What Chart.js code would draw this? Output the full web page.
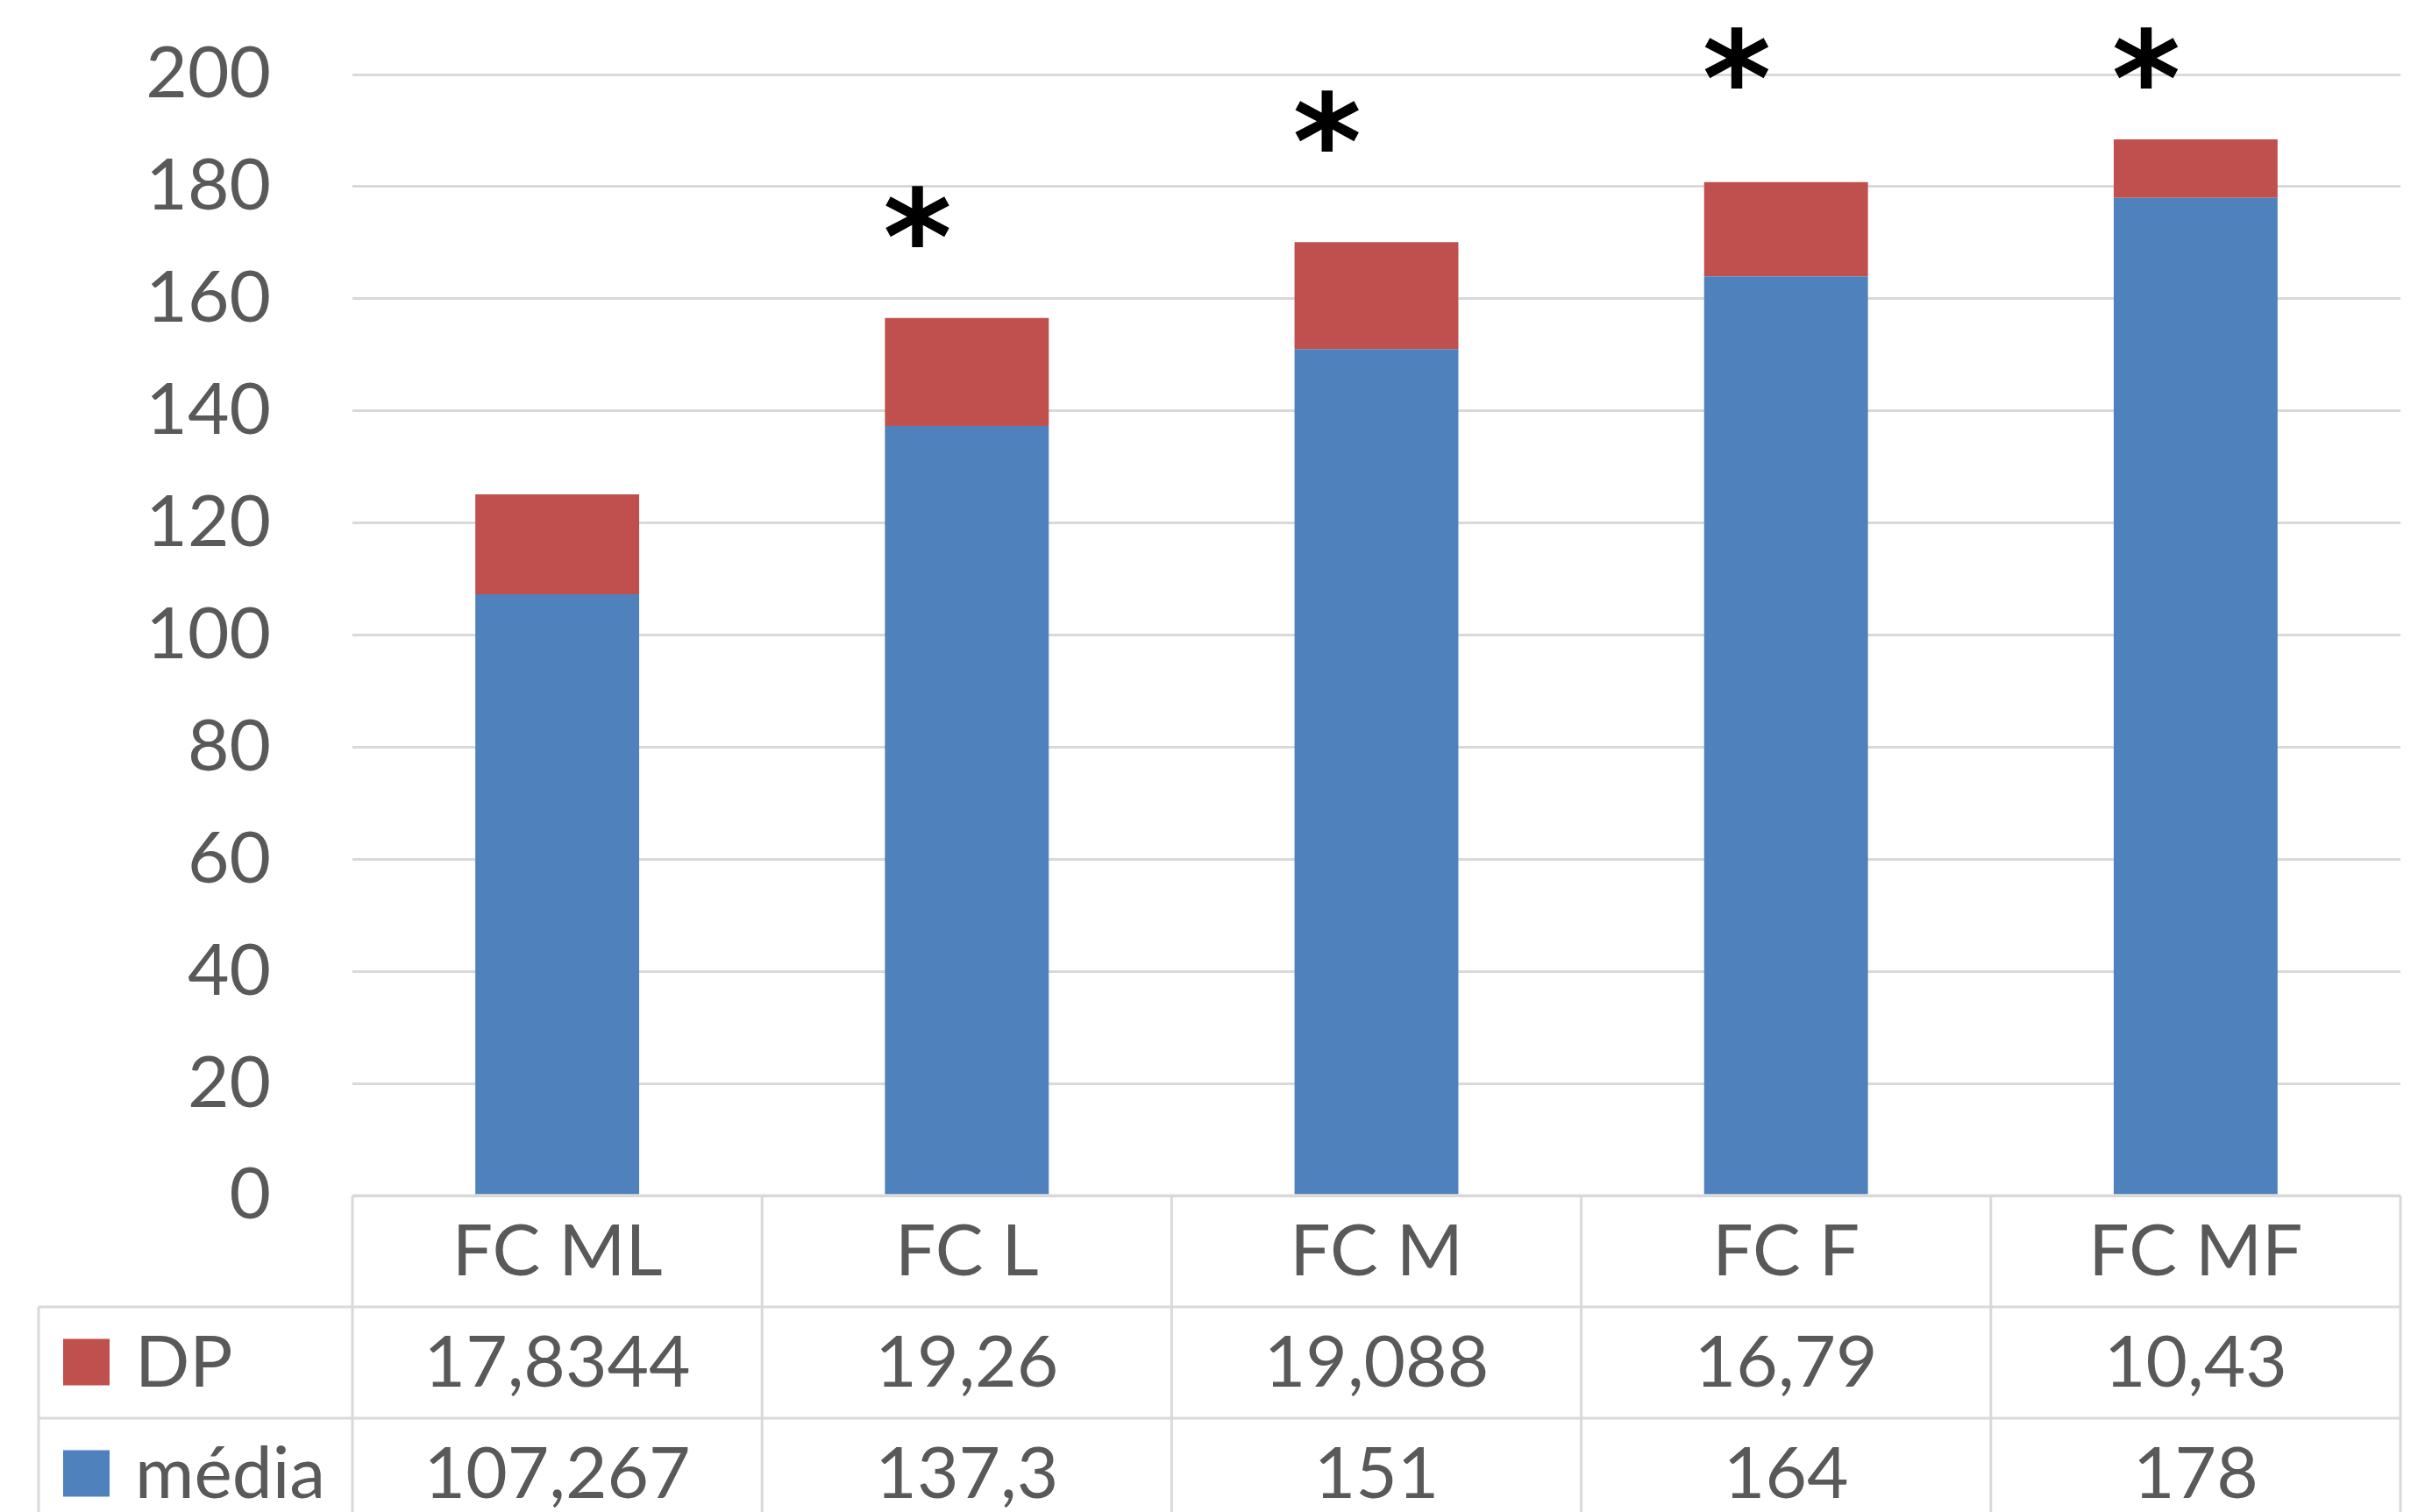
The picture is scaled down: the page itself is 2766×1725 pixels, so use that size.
<!DOCTYPE html>
<html>
<head>
<meta charset="utf-8">
<script src="https://cdn.jsdelivr.net/npm/chart.js@4/dist/chart.umd.min.js"></script>
<style>
  html, body { margin: 0; padding: 0; background: #ffffff; }
  #wrap { width: 2766px; height: 1725px; }
</style>
</head>
<body>
<div id="wrap"><canvas id="chart" width="2766" height="1725"></canvas></div>
<script>
// Heart-rate categories and their statistics
const categories = ['FC ML', 'FC L', 'FC M', 'FC F', 'FC MF'];
const mediaValues = [107.267, 137.3, 151, 164, 178];
const dpValues = [17.8344, 19.26, 19.088, 16.79, 10.43];
const mediaLabels = ['107,267', '137,3', '151', '164', '178'];
const dpLabels = ['17,8344', '19,26', '19,088', '16,79', '10,43'];
// Significance markers: level on the value axis where each asterisk sits (null = none)
const asteriskLevels = [null, 174.7, 191.7, 203, 203];

const BLUE = '#4F81BD';
const RED = '#C0504D';
const TEXT = '#595959';
const GRID = '#D9D9D9';
const FONT = 'Lato, "Open Sans", sans-serif';
const FONT_SIZE = 82;

// Data table drawn beneath the plot, aligned to the category axis
const dataTable = {
  id: 'dataTable',
  afterDraw(chart) {
    const ctx = chart.ctx;
    const xs = chart.scales.x;
    const area = chart.chartArea;
    const n = categories.length;
    const colW = (area.right - area.left) / n;
    const rowH = 127;
    const top = area.bottom;
    const leftEdge = 44;
    const bottom = top + rowH * 3;

    ctx.save();
    ctx.strokeStyle = GRID;
    ctx.lineWidth = 3;
    ctx.beginPath();
    // horizontal rules
    ctx.moveTo(area.left, top); ctx.lineTo(area.right, top);
    ctx.moveTo(leftEdge, top + rowH); ctx.lineTo(area.right, top + rowH);
    ctx.moveTo(leftEdge, top + rowH * 2); ctx.lineTo(area.right, top + rowH * 2);
    ctx.moveTo(leftEdge, bottom); ctx.lineTo(area.right, bottom);
    // vertical rules
    for (let i = 0; i <= n; i++) {
      const x = area.left + colW * i;
      ctx.moveTo(x, top); ctx.lineTo(x, bottom);
    }
    ctx.moveTo(leftEdge, top + rowH); ctx.lineTo(leftEdge, bottom);
    ctx.stroke();

    ctx.fillStyle = TEXT;
    ctx.font = FONT_SIZE + 'px ' + FONT;
    ctx.textBaseline = 'alphabetic';
    const capHalf = FONT_SIZE * 0.716 / 2;
    const rows = [categories, dpLabels, mediaLabels];
    rows.forEach((row, r) => {
      const cy = top + rowH * r + rowH / 2 - 2;
      ctx.textAlign = 'center';
      row.forEach((txt, i) => {
        ctx.fillText(txt, xs.getPixelForValue(i), cy + capHalf);
      });
    });

    // legend keys
    const keys = [['DP', RED], ['média', BLUE]];
    keys.forEach(([label, color], k) => {
      const cy = top + rowH * (k + 1) + rowH / 2;
      ctx.fillStyle = color;
      ctx.fillRect(72, cy - 27, 53, 53);
      ctx.fillStyle = TEXT;
      ctx.textAlign = 'left';
      ctx.fillText(label, 154, cy - 2 + capHalf);
    });
    ctx.restore();
  }
};

// Asterisks marking significant differences
const asterisks = {
  id: 'asterisks',
  afterDatasetsDraw(chart) {
    const ctx = chart.ctx;
    const xs = chart.scales.x;
    const ys = chart.scales.y;
    const colW = (chart.chartArea.right - chart.chartArea.left) / categories.length;
    ctx.save();
    ctx.fillStyle = '#000000';
    ctx.font = 'bold 150px "DejaVu Sans", sans-serif';
    ctx.textAlign = 'left';
    ctx.textBaseline = 'alphabetic';
    const m = ctx.measureText('*');
    const w = m.actualBoundingBoxRight + m.actualBoundingBoxLeft;
    const h = m.actualBoundingBoxAscent + m.actualBoundingBoxDescent;
    asteriskLevels.forEach((lvl, i) => {
      if (lvl === null) return;
      const cx = xs.getPixelForValue(i) - colW * 0.12;
      const cy = ys.getPixelForValue(lvl);
      ctx.fillText('*', cx - w / 2 + m.actualBoundingBoxLeft, cy - h / 2 + m.actualBoundingBoxAscent);
    });
    ctx.restore();
  }
};

new Chart(document.getElementById('chart'), {
  type: 'bar',
  data: {
    labels: categories,
    datasets: [
      { label: 'média', data: mediaValues, backgroundColor: BLUE, borderWidth: 0 },
      { label: 'DP', data: dpValues, backgroundColor: RED, borderWidth: 0 }
    ]
  },
  options: {
    responsive: false,
    devicePixelRatio: 1,
    animation: false,
    layout: { padding: { top: 85, right: 28, bottom: 361, left: 0 } },
    datasets: { bar: { categoryPercentage: 1.0, barPercentage: 0.4 } },
    plugins: { legend: { display: false }, tooltip: { enabled: false } },
    scales: {
      x: { stacked: true, display: false },
      y: {
        stacked: true,
        min: 0,
        max: 200,
        border: { display: false },
        grid: { color: GRID, lineWidth: 3, drawTicks: false },
        ticks: {
          stepSize: 20,
          color: TEXT,
          padding: 93,
          font: { family: FONT, size: FONT_SIZE }
        },
        afterFit(scale) {
          scale.width = 402;
          scale.paddingTop = 0;
          scale.paddingBottom = 0;
        }
      }
    }
  },
  plugins: [dataTable, asterisks]
});
</script>
</body>
</html>
